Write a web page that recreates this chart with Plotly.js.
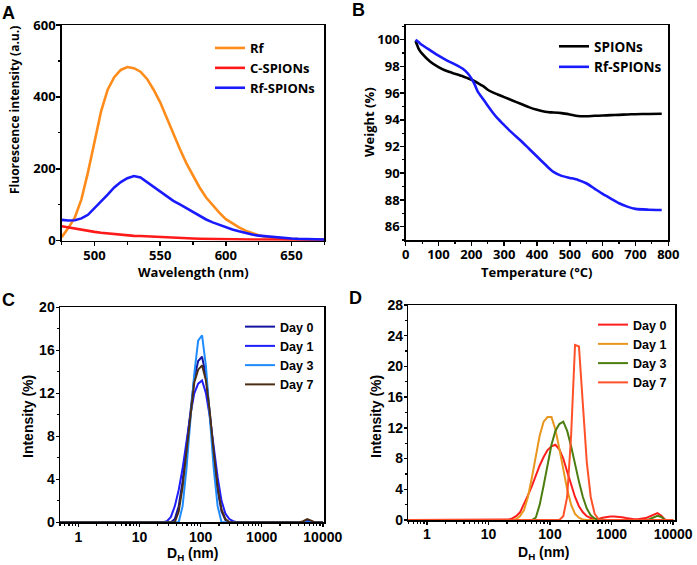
<!DOCTYPE html>
<html>
<head>
<meta charset="utf-8">
<script src="https://cdn.plot.ly/plotly-3.0.1.min.js"></script>
<style>html,body{margin:0;padding:0;background:#fff;}#chart{width:697px;height:565px;}</style>
</head>
<body>
<div id="chart"></div>
<script>
// ---------- Panel A: fluorescence spectra ----------
const wavelengthNm = [475,480,485,490,495,500,505,510,515,520,525,530,535,540,545,550,555,560,565,570,575,580,585,590,595,600,605,610,615,620,625,630,635,640,645,650,655,660,665,670,675];
const rfIntensity = [10,35,65,115,190,275,360,420,455,475,483,480,470,450,420,385,340,295,255,215,180,148,120,98,78,60,48,37,28,21,15,11,8,6,5,4,3.5,3,3,2.5,2.5];
const cSpionsIntensity = [40,36.5,33,30,27,24.5,22,20,18,16,14.5,13.5,13,12,10.5,9,8,7.5,7,6.5,6,5.5,5,4.8,4.5,4.2,4,3.8,3.6,3.5,3.4,3.3,3.2,3.1,3,3,2.9,2.8,2.7,2.6,2.5];
const rfSpionsIntensity = [58,56,57,62,72,90,108,128,148,163,174,180,176,163,148,135,122,111,101,90,79,69,59,51,44,37,31,26,21,17,14,12,10,8.5,7,6,5,4.5,4,3.5,3];
const legendA = ['Rf','C-SPIONs','Rf-SPIONs'];

// ---------- Panel B: TGA ----------
const temperatureC = [30,40,50,75,100,125,150,175,190,200,210,220,230,240,250,265,280,300,325,350,375,400,425,440,450,475,500,525,550,575,600,625,650,675,700,740,780];
const spionsWeight = [99.9,99.3,98.95,98.35,97.95,97.65,97.45,97.25,97.1,97.0,96.9,96.75,96.6,96.45,96.25,96.05,95.9,95.7,95.45,95.2,94.95,94.75,94.6,94.56,94.55,94.5,94.4,94.28,94.27,94.3,94.32,94.35,94.37,94.4,94.42,94.44,94.45];
const rfSpionsWeight = [100.0,99.8,99.6,99.2,98.8,98.45,98.15,97.8,97.45,97.1,96.65,96.1,95.75,95.4,95.05,94.55,94.1,93.6,93.0,92.45,91.85,91.25,90.65,90.3,90.1,89.8,89.65,89.5,89.25,88.85,88.45,88.1,87.75,87.5,87.33,87.27,87.25];
const legendB = ['SPIONs','Rf-SPIONs'];

// ---------- Panels C & D: DLS size distributions ----------
const dlsSizeNm = [0.4,18.17,21.04,24.36,28.21,32.67,37.84,43.82,50.75,58.77,68.06,78.82,91.28,105.7,122.4,141.8,164.2,190.1,220.2,255.0,295.3,342.0,396.1,458.7,531.2,615.1,712.4,825.0,955.4,1106,1281,1484,1718,1990,2305,2669,3091,3580,4145,4801,5560,6439,7456,8635,10000];
const dayLabels = ['Day 0','Day 1','Day 3','Day 7'];
const cDay0 = [0,0,0,0,0,0,0.3,1.5,3.8,7.0,10.4,13.4,15.0,15.4,13.6,10.2,6.4,3.0,1.0,0.2,0,0,0,0,0,0,0,0,0,0,0,0,0,0,0,0,0,0,0,0.05,0.15,0.05,0,0,0];
const cDay1 = [0,0,0,0,0.1,0.5,1.5,3.0,5.0,7.5,10.0,12.0,12.9,13.2,12.0,9.8,7.0,4.2,2.0,0.8,0.3,0.1,0,0,0,0,0,0,0,0,0,0,0,0,0,0,0,0,0,0.03,0.1,0.03,0,0,0];
const cDay3 = [0,0,0,0,0,0,0,0,1.5,5.0,9.5,13.8,16.9,17.4,14.5,9.8,5.0,1.5,0,0,0,0,0,0,0,0,0,0,0,0,0,0,0,0,0,0,0,0,0,0,0,0,0,0,0];
const cDay7 = [0,0,0,0,0,0,0,1.0,3.3,6.6,10.0,13.0,14.2,14.6,13.2,10.2,6.5,3.3,1.2,0.3,0,0,0,0,0,0,0,0,0,0,0,0,0,0,0,0,0,0,0,0.1,0.3,0.15,0,0,0];
const dDay0 = [0,0,0.05,0.2,0.5,1.0,2.0,3.2,4.4,5.8,7.1,8.2,9.1,9.6,9.8,9.2,8.0,6.3,4.5,3.0,1.8,1.0,0.5,0.25,0.12,0.15,0.3,0.4,0.45,0.45,0.42,0.35,0.25,0.15,0.1,0.1,0.15,0.25,0.45,0.7,0.9,0.55,0,0,0];
const dDay1 = [0,0,0,0,0.1,0.5,1.3,3.0,5.5,8.3,11.0,12.8,13.4,13.4,11.8,9.3,6.6,4.0,2.0,0.8,0.3,0.05,0,0,0,0,0,0,0,0,0,0,0,0,0,0,0,0,0,0,0,0,0,0,0];
const dDay3 = [0,0,0,0,0,0,0,0,0,0.3,2.0,4.5,7.4,9.8,11.6,12.5,12.8,11.6,9.6,7.2,5.0,3.0,1.5,0.6,0.2,0.05,0,0,0,0,0,0,0,0,0,0,0,0,0.1,0.3,0.55,0.4,0,0,0];
const dDay7 = [0,0,0,0,0,0,0,0,0,0,0,0,0,0,0,0,0.5,3.0,11.0,22.8,22.6,15.0,7.5,3.0,0.8,0.1,0,0,0,0,0,0,0,0,0,0,0,0,0,0,0,0,0,0,0];
const logTickVals = [1,10,100,1000,10000];
const logTickText = ['1','10','100','1000','10000'];

// ---------- styling ----------
const W = 697, H = 565;
const px = v => v / W, py = v => 1 - v / H;
const fontAB = {family: 'Open Sans, DejaVu Sans, sans-serif', size: 13, color: '#000', weight: 'bold'};
const fontCD = {family: 'Liberation Sans, Arial, sans-serif', size: 14, color: '#000', weight: 'bold'};
const colorsA = ['#ff8c1a', '#ff1a1a', '#1a1aff'];
const colorsB = ['#000000', '#1a1aff'];
const colorsC = ['#14149e', '#1e1eff', '#1e8cff', '#4b2d14'];
const colorsD = ['#ff1e1e', '#e8961e', '#4b7d0f', '#ff5028'];

const minorLog = [];
for (let e = -1; e <= 3; e++) for (let k = 2; k <= 9; k++) minorLog.push(k * Math.pow(10, e));

function baseAxis(font) {
  return {showline: true, linewidth: 1.5, linecolor: '#000', mirror: true, ticks: 'outside', ticklen: 4, tickwidth: 1.5,
          tickcolor: '#000', showgrid: false, zeroline: false, tickfont: font, fixedrange: true, ticklabelstandoff: -2};
}
const minorStyle = {ticks: 'outside', ticklen: 2.5, tickwidth: 1.2, tickcolor: '#000'};

const traces = [];
[rfIntensity, cSpionsIntensity, rfSpionsIntensity].forEach((ys, i) => {
  traces.push({x: wavelengthNm, y: ys, type: 'scatter', mode: 'lines', name: legendA[i], xaxis: 'x', yaxis: 'y',
               line: {color: colorsA[i], width: 2.6}, legend: 'legend'});
});
[spionsWeight, rfSpionsWeight].forEach((ys, i) => {
  traces.push({x: temperatureC, y: ys, type: 'scatter', mode: 'lines', name: legendB[i], xaxis: 'x2', yaxis: 'y2',
               line: {color: colorsB[i], width: 2.6, shape: 'spline', smoothing: 0.6}, legend: 'legend2'});
});
[cDay0, cDay1, cDay3, cDay7].forEach((ys, i) => {
  traces.push({x: dlsSizeNm, y: ys, type: 'scatter', mode: 'lines', name: dayLabels[i], xaxis: 'x3', yaxis: 'y3',
               line: {color: colorsC[i], width: 2}, legend: 'legend3'});
});
[dDay0, dDay1, dDay3, dDay7].forEach((ys, i) => {
  traces.push({x: dlsSizeNm, y: ys, type: 'scatter', mode: 'lines', name: dayLabels[i], xaxis: 'x4', yaxis: 'y4',
               line: {color: colorsD[i], width: 2}, legend: 'legend4'});
});

function legendAt(x, y, font) {
  return {x: px(x), y: py(y), xanchor: 'left', yanchor: 'top', bgcolor: 'rgba(0,0,0,0)', borderwidth: 0, font: font, itemwidth: 30};
}
function ann(text, x, y, font, angle) {
  return {text: text, x: px(x), y: py(y), xref: 'paper', yref: 'paper', showarrow: false, xanchor: 'center', yanchor: 'middle',
          textangle: angle || 0, font: font};
}
const letterFont = {family: 'Liberation Sans, Arial, sans-serif', size: 18, color: '#000', weight: 'bold'};
const titleAB = Object.assign({}, fontAB, {size: 13});
const titleAy = Object.assign({}, fontAB, {size: 12});
const legendFontCD = Object.assign({}, fontCD, {size: 12.5});

const layout = {
  width: W, height: H, margin: {l: 0, r: 0, t: 0, b: 0}, paper_bgcolor: '#fff', plot_bgcolor: '#fff', showlegend: true,
  xaxis: Object.assign(baseAxis(fontAB), {domain: [px(61.7), px(324.3)], range: [475, 675], tick0: 0, dtick: 50, anchor: 'y',
          minor: Object.assign({dtick: 25}, minorStyle)}),
  yaxis: Object.assign(baseAxis(fontAB), {domain: [py(240.7), py(25)], range: [0, 600], dtick: 200, anchor: 'x',
          minor: Object.assign({dtick: 100}, minorStyle)}),
  xaxis2: Object.assign(baseAxis(fontAB), {domain: [px(405.7), px(668.3)], range: [0, 800], dtick: 100, anchor: 'y2',
          minor: Object.assign({dtick: 50}, minorStyle)}),
  yaxis2: Object.assign(baseAxis(fontAB), {domain: [py(240), py(25)], range: [85, 101.1], tick0: 0, dtick: 2, anchor: 'x2',
          minor: Object.assign({tick0: 1, dtick: 1}, minorStyle)}),
  xaxis3: Object.assign(baseAxis(fontCD), {domain: [px(60), px(324)], type: 'log', range: [Math.log10(0.5), 4.02], anchor: 'y3',
          tickmode: 'array', tickvals: logTickVals, ticktext: logTickText, ticklen: 3,
          minor: Object.assign({tickmode: 'array', tickvals: minorLog}, minorStyle, {ticklen: 2})}),
  yaxis3: Object.assign(baseAxis(fontCD), {domain: [py(522.3), py(307.3)], range: [0, 20], dtick: 4, anchor: 'x3', ticklen: 3,
          minor: Object.assign({dtick: 2}, minorStyle, {ticklen: 2})}),
  xaxis4: Object.assign(baseAxis(fontCD), {domain: [px(408.3), px(675)], type: 'log', range: [Math.log10(0.5), 4.03], anchor: 'y4',
          tickmode: 'array', tickvals: logTickVals, ticktext: logTickText, ticklen: 3,
          minor: Object.assign({tickmode: 'array', tickvals: minorLog}, minorStyle, {ticklen: 2})}),
  yaxis4: Object.assign(baseAxis(fontCD), {domain: [py(520), py(305)], range: [0, 28], dtick: 4, anchor: 'x4', ticklen: 3,
          minor: Object.assign({dtick: 2}, minorStyle, {ticklen: 2})}),
  legend: legendAt(210, 33, Object.assign({}, fontAB, {size: 13})),
  legend2: legendAt(554, 31, Object.assign({}, fontAB, {size: 13.5})),
  legend3: legendAt(240, 312, legendFontCD),
  legend4: legendAt(593, 310, legendFontCD),
  annotations: [
    ann('A', 8.5, 12.5, letterFont), ann('B', 358.5, 10, letterFont), ann('C', 8.5, 300, letterFont), ann('D', 355.5, 297.5, letterFont),
    ann('Fluorescence intensity (a.u.)', 15, 110, titleAy, -90),
    ann('Wavelength (nm)', 193, 272, titleAB),
    ann('Weight (%)', 369, 122, titleAB, -90),
    ann('Temperature (°C)', 536.5, 272, titleAB),
    ann('Intensity (%)', 28, 416, fontCD, -90),
    ann('D<sub>H</sub> (nm)', 192, 554, fontCD),
    ann('Intensity (%)', 376, 417, fontCD, -90),
    ann('D<sub>H</sub> (nm)', 543, 553, fontCD)
  ]
};

Plotly.newPlot('chart', traces, layout, {staticPlot: true, displayModeBar: false});
</script>
</body>
</html>
